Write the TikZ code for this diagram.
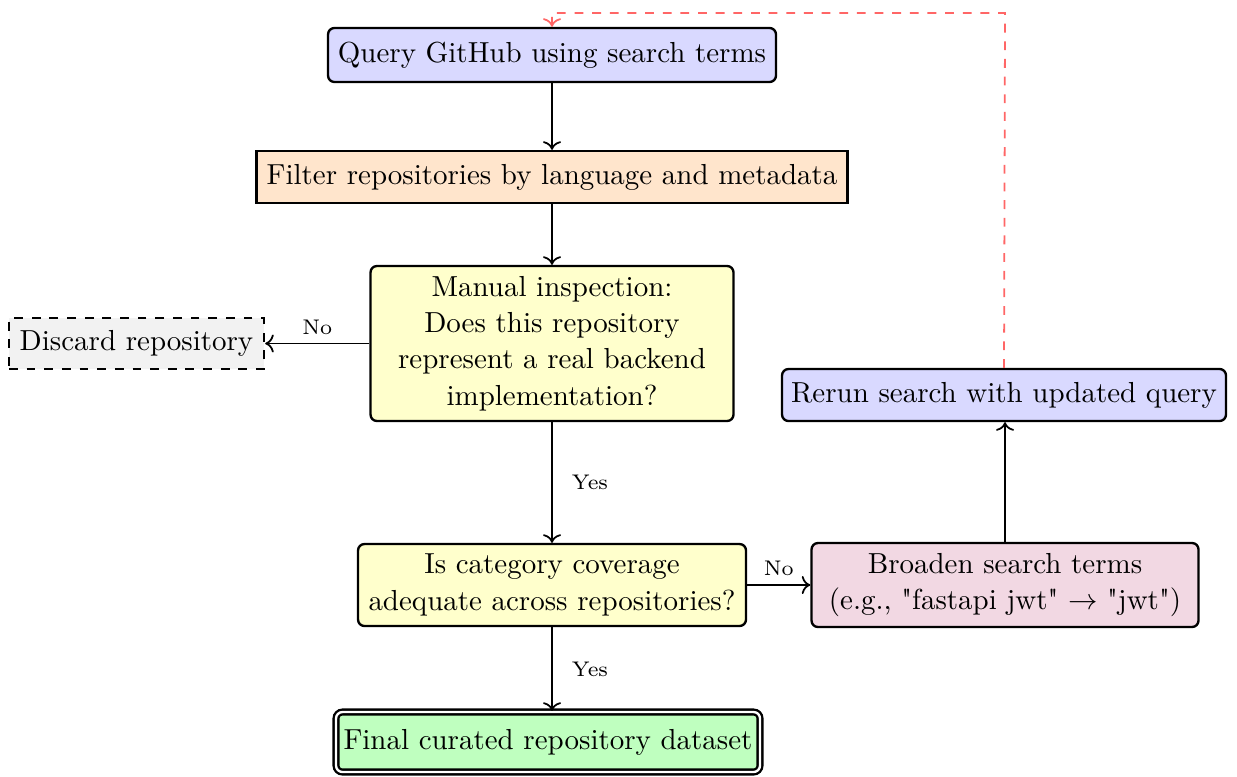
\documentclass[tikz,border=0pt]{standalone}
\usetikzlibrary{arrows.meta,positioning}
\newlength{\pxu}\setlength{\pxu}{0.34pt}
\definecolor{qblue}{RGB}{217,217,255}
\definecolor{forange}{RGB}{255,229,204}
\definecolor{myellow}{RGB}{255,255,204}
\definecolor{dgray}{RGB}{242,242,242}
\definecolor{bpink}{RGB}{242,216,227}
\definecolor{fgreen}{RGB}{191,255,191}
\definecolor{lred}{RGB}{255,102,102}
\tikzset{
  box/.style={draw, thick, align=center, inner sep=0pt, font=\fontsize{9.85}{12.4}\selectfont},
  rbox/.style={box, rounded corners=2.2pt},
  arr/.style={semithick, ->},
  lbl/.style={font=\fontsize{7.2}{8}\selectfont, inner sep=1pt}
}
\begin{document}
\begin{tikzpicture}[x=\pxu, y=-\pxu]
\useasboundingbox (0,0) rectangle (1237,776);
\node[rbox, fill=qblue, minimum width=448\pxu, minimum height=54\pxu] (q) at (552,55) {Query GitHub using search terms};
\node[box, fill=forange, minimum width=591\pxu, minimum height=52\pxu] (f) at (552,177) {Filter repositories by language and metadata};
\node[rbox, fill=myellow, minimum width=363\pxu, minimum height=155\pxu] (m) at (552,343.5) {Manual inspection:\\Does this repository\\represent a real backend\\implementation?};
\node[box, dashed, fill=dgray, minimum width=255\pxu, minimum height=51\pxu] (d) at (136.5,343.5) {Discard repository};
\node[rbox, fill=myellow, minimum width=388\pxu, minimum height=82\pxu] (c) at (552,585) {Is category coverage\\adequate across repositories?};
\node[rbox, fill=bpink, minimum width=387\pxu, minimum height=84\pxu] (b) at (1005,585) {Broaden search terms\\(e.g., \textquotedbl fastapi jwt\textquotedbl{} $\rightarrow$ \textquotedbl jwt\textquotedbl)};
\node[rbox, fill=qblue, minimum width=444\pxu, minimum height=52\pxu] (r) at (1004,395) {Rerun search with updated query};
\node[rbox, fill=fgreen, double, double distance=0.8pt, minimum width=424\pxu, minimum height=60\pxu] (g) at (548,742) {Final curated repository dataset};
\coordinate (t1) at (1005,13);
\coordinate (t2) at (552,13);
\draw[arr] (q) -- (f);
\draw[arr] (f) -- (m);
\draw[arr] (m) -- node[lbl, above=5\pxu] {No} (d);
\draw[arr] (m) -- node[lbl, right=16\pxu] {Yes} (c);
\draw[arr] (c) -- node[lbl, above=5\pxu] {No} (b);
\draw[arr] (c.south) -- node[lbl, right=16\pxu] {Yes} (c.south |- g.north);
\draw[arr] (b.north) -- (b.north |- r.south);
\draw[semithick, dashed, lred, ->] (r.north) -- (t1) -- (t2) -- (q.north);
\end{tikzpicture}
\end{document}
